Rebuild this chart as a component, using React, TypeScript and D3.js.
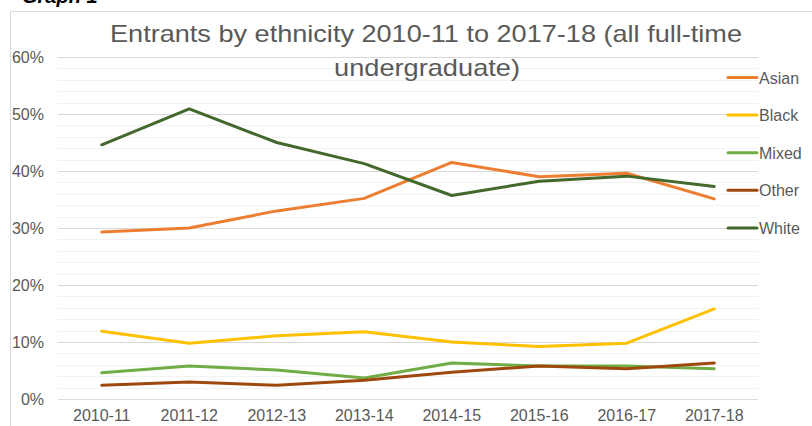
import React from "react";
import * as d3 from "d3";

const categories = ["2010-11", "2011-12", "2012-13", "2013-14", "2014-15", "2015-16", "2016-17", "2017-18"];
const seriesNames = ["Asian", "Black", "Mixed", "Other", "White"];
const asian = [29.3, 30.0, 33.0, 35.2, 41.5, 39.0, 39.6, 35.1];
const black = [11.9, 9.8, 11.1, 11.8, 10.0, 9.2, 9.8, 15.8];
const mixed = [4.6, 5.8, 5.1, 3.7, 6.3, 5.8, 5.8, 5.3];
const other = [2.4, 3.0, 2.4, 3.3, 4.7, 5.8, 5.3, 6.3];
const white = [44.6, 50.9, 45.0, 41.3, 35.7, 38.2, 39.1, 37.3];
const colors = ["#ED7D31", "#FFC000", "#70AD47", "#9E480E", "#43682B"];
const yTicks = [0, 10, 20, 30, 40, 50, 60];
const minorTicks = [2, 4, 6, 8, 12, 14, 16, 18, 22, 24, 26, 28, 32, 34, 36, 38, 42, 44, 46, 48, 52, 54, 56, 58];
const titleLines = ["Entrants by ethnicity 2010-11 to 2017-18 (all full-time", "undergraduate)"];

export default function App() {
  const W = 812, H = 426;
  const left = 58, right = 758, top = 57, bottom = 399;
  const x = d3.scalePoint<string>().domain(categories).range([left, right]).padding(0.5);
  const y = d3.scaleLinear().domain([0, 60]).range([bottom, top]);
  const data = [asian, black, mixed, other, white];
  const line = d3.line<number>().x((_, i) => x(categories[i]) as number).y((d) => y(d));
  const font = "'Liberation Sans', Arial, sans-serif";
  return (
    <svg width={W} height={H} style={{ position: "absolute", left: 0, top: 0, background: "#fff" }} fontFamily={font}>
      <rect x={0} y={0} width={W} height={H} fill="#fff" />
      <text x={22} y={3} fontSize={20} fontWeight="bold" fontStyle="italic" fill="#000">Graph 1</text>
      <line x1={10.5} x2={W + 5} y1={11.5} y2={11.5} stroke="#d9d9d9" />
      <line x1={10.5} x2={10.5} y1={11.5} y2={H + 5} stroke="#d9d9d9" />
      {minorTicks.map((t) => (
        <line key={"m" + t} x1={left} x2={right} y1={Math.round(y(t)) + 0.5} y2={Math.round(y(t)) + 0.5} stroke="#f2f2f2" />
      ))}
      {yTicks.map((t) => (
        <line key={"g" + t} x1={left} x2={right} y1={Math.round(y(t)) + 0.5} y2={Math.round(y(t)) + 0.5} stroke="#d9d9d9" />
      ))}
      {yTicks.map((t) => (
        <text key={"t" + t} x={44} y={y(t) + 5.5} fontSize={16} fill="#595959" textAnchor="end">{t + "%"}</text>
      ))}
      {categories.map((c) => (
        <text key={c} x={x(c) as number} y={421} fontSize={16} fill="#595959" textAnchor="middle">{c}</text>
      ))}
      <text x={110} y={42} fontSize={24} fill="#595959" textLength={632} lengthAdjust="spacingAndGlyphs">{titleLines[0]}</text>
      <text x={334} y={76} fontSize={24} fill="#595959" textLength={186} lengthAdjust="spacingAndGlyphs">{titleLines[1]}</text>
      {data.map((s, i) => (
        <path key={seriesNames[i]} d={line(s) as string} fill="none" stroke={colors[i]} strokeWidth={3} strokeLinejoin="round" strokeLinecap="round" />
      ))}
      {seriesNames.map((n, i) => {
        const ly = 77.5 + i * 37.6;
        return (
          <g key={"l" + n}>
            <line x1={728} x2={757} y1={ly} y2={ly} stroke={colors[i]} strokeWidth={3} strokeLinecap="round" />
            <text x={759} y={ly + 6} fontSize={16} fill="#595959">{n}</text>
          </g>
        );
      })}
    </svg>
  );
}
